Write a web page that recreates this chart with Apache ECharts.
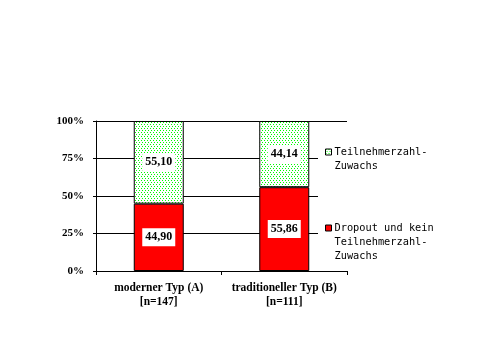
<!DOCTYPE html>
<html>
<head>
<meta charset="utf-8">
<script src="https://cdn.jsdelivr.net/npm/echarts@6/dist/echarts.min.js"></script>
<style>html,body{margin:0;padding:0;background:#fff}#c{width:479px;height:359px}</style>
</head>
<body>
<div id="c"></div>
<script>
const categories = ['moderner Typ (A)\n[n=147]', 'traditioneller Typ (B)\n[n=111]'];
const dropoutValues = [44.90, 55.86];
const zuwachsValues = [55.10, 44.14];
const seriesNames = ['Dropout und kein Teilnehmerzahl-Zuwachs', 'Teilnehmerzahl-Zuwachs'];
const yTicks = [0, 25, 50, 75, 100];

function makePattern() {
  const c = document.createElement('canvas');
  c.width = 6; c.height = 4;
  const g = c.getContext('2d');
  g.fillStyle = '#ffffff'; g.fillRect(0, 0, 6, 4);
  g.fillStyle = '#00ff00';
  [[0,0],[3,0],[1,2],[4,2]].forEach(p => g.fillRect(p[0], p[1], 1, 1));
  return c;
}
const pattern = { image: makePattern(), repeat: 'repeat' };

const fmt = v => v.toFixed(2).replace('.', ',');
const serif = '"Liberation Serif", "Times New Roman", serif';
const labelStyle = {
  show: true, position: 'inside', color: '#000', fontFamily: serif, fontWeight: 'bold',
  fontSize: 12, backgroundColor: '#fff', padding: [3, 3, 3, 3],
  formatter: p => fmt(p.value)
};

const chart = echarts.init(document.getElementById('c'));
chart.setOption({
  animation: false,
  backgroundColor: '#fff',
  grid: { left: 96, right: 132, top: 121, bottom: 88 },
  legend: {
    orient: 'vertical', left: 318, top: 128.5,
    padding: [2.5, 10, 3, 7],
    backgroundColor: '#fff',
    icon: 'rect',
    itemWidth: 6, itemHeight: 6, itemGap: 20,
    itemStyle: { borderColor: '#000', borderWidth: 1 },
    textStyle: { fontFamily: '"DejaVu Sans Mono", monospace', fontSize: 10.3, color: '#000', lineHeight: 14, padding: [0, 0, 0, -2] },
    data: [seriesNames[1], seriesNames[0]],
    formatter: n => n === seriesNames[1]
      ? ' \nTeilnehmerzahl-\nZuwachs'
      : ' \n \nDropout und kein\nTeilnehmerzahl-\nZuwachs'
  },
  xAxis: {
    type: 'category', data: categories,
    axisLine: { lineStyle: { color: '#000', width: 1 } },
    axisTick: { show: true, alignWithLabel: false, length: 4, lineStyle: { color: '#000' } },
    axisLabel: { interval: 0, color: '#000', fontFamily: serif, fontWeight: 'bold', fontSize: 11.5, lineHeight: 14, margin: 10 }
  },
  yAxis: {
    type: 'value', min: yTicks[0], max: yTicks[yTicks.length - 1], interval: 25,
    axisLine: { show: true, lineStyle: { color: '#000', width: 1 } },
    axisTick: { show: true, length: 3, lineStyle: { color: '#000' } },
    axisLabel: { color: '#000', fontFamily: serif, fontWeight: 'bold', fontSize: 11, margin: 12, formatter: '{value}%' },
    splitLine: { show: true, lineStyle: { color: '#000', width: 1 } }
  },
  series: [
    {
      name: seriesNames[0], type: 'bar', stack: 's', data: dropoutValues, barWidth: 50,
      itemStyle: { color: '#ff0000', borderColor: '#000', borderWidth: 1 },
      label: labelStyle
    },
    {
      name: seriesNames[1], type: 'bar', stack: 's', data: zuwachsValues, barWidth: 50,
      itemStyle: { color: pattern, borderColor: '#000', borderWidth: 1 },
      label: labelStyle
    }
  ]
});
</script>
</body>
</html>
